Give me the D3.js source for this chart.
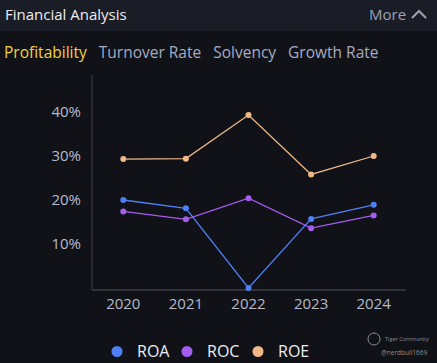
<!DOCTYPE html>
<html>
<head>
<meta charset="utf-8">
<script src="https://cdn.jsdelivr.net/npm/d3@7"></script>
<style>
  html, body { margin: 0; padding: 0; background: #101217; }
  svg { display: block; font-family: "Open Sans", "Noto Sans", sans-serif; }
</style>
</head>
<body>
<div id="chart"></div>
<script>
// Data //
const years = ["2020", "2021", "2022", "2023", "2024"];
const roa = [20.0, 18.1, 0, 15.7, 18.9];
const roc = [17.4, 15.6, 20.4, 13.6, 16.5];
const roe = [29.3, 29.4, 39.3, 25.8, 30.0];
const yTicks = [10, 20, 30, 40];
const tabs = ["Profitability", "Turnover Rate", "Solvency", "Growth Rate"];

const series = [
    { name: "ROA", values: roa, color: "#4f7ff6" },
    { name: "ROC", values: roc, color: "#a55cf0" },
    { name: "ROE", values: roe, color: "#f0b887" }
];

const W = 437, H = 363;
const svg = d3.select("#chart").append("svg")
    .attr("width", W)
    .attr("height", H);

svg.append("rect").attr("width", W).attr("height", H).attr("fill", "#101217");

/* Header */
svg.append("rect").attr("width", W).attr("height", 31).attr("fill", "#1a1d26");
svg.append("text")
    .attr("x", 5).attr("y", 20)
    .attr("fill", "#eceef3")
    .attr("font-size", "15px")
    .text("Financial Analysis");
svg.append("text")
    .attr("x", 369).attr("y", 20)
    .attr("fill", "#9da1b0")
    .attr("font-size", "15px")
    .text("More");
svg.append("path")
    .attr("d", "M412,18 L419,11 L426,18")
    .attr("fill", "none")
    .attr("stroke", "#9da1b0")
    .attr("stroke-width", 2);

/* Tabs */
let tx = 4;
const tabG = svg.append("g");
tabs.forEach((t, i) => {
    const txt = tabG.append("text")
        .attr("x", tx).attr("y", 58)
        .attr("font-size", "15.5px")
        .attr("fill", i === 0 ? "#f3d33c" : "#a7abc4")
        .text(t);
    tx += txt.node().getComputedTextLength() + 12;
});

/* Scales */
const xScale = d3.scalePoint()
    .domain(years)
    .range([92, 405])
    .padding(0.5);

const yScale = d3.scaleLinear()
    .domain([0, 40])
    .range([288, 112]);

/* Axes */
svg.append("line")
    .attr("x1", 92).attr("x2", 92)
    .attr("y1", 75).attr("y2", 290)
    .attr("stroke", "#2d3039").attr("stroke-width", 1.5);
svg.append("line")
    .attr("x1", 92).attr("x2", 406)
    .attr("y1", 290).attr("y2", 290)
    .attr("stroke", "#3a3d47").attr("stroke-width", 1.5);

svg.selectAll(".ytick")
    .data(yTicks)
    .join("text")
    .attr("class", "ytick")
    .attr("x", 81)
    .attr("y", d => yScale(d))
    .attr("dy", "0.35em")
    .attr("text-anchor", "end")
    .attr("fill", "#b6bacb")
    .attr("font-size", "15px")
    .text(d => d + "%");

svg.selectAll(".xtick")
    .data(years)
    .join("text")
    .attr("class", "xtick")
    .attr("x", d => xScale(d))
    .attr("y", 309)
    .attr("text-anchor", "middle")
    .attr("fill", "#b6bacb")
    .attr("font-size", "15px")
    .text(d => d);

/* Lines */
const line = d3.line()
    .x((d, i) => xScale(years[i]))
    .y(d => yScale(d));

series.forEach(s => {
    svg.append("path")
        .datum(s.values)
        .attr("d", line)
        .attr("fill", "none")
        .attr("stroke", s.color)
        .attr("stroke-width", 1.3);
    svg.selectAll(`.dot-${s.name}`)
        .data(s.values)
        .join("circle")
        .attr("class", `dot-${s.name}`)
        .attr("cx", (d, i) => xScale(years[i]))
        .attr("cy", d => yScale(d))
        .attr("r", 3)
        .attr("fill", s.color);
});

/* Legend */
const legendX = [117, 187, 258];
series.forEach((s, i) => {
    svg.append("circle")
        .attr("cx", legendX[i]).attr("cy", 351.5)
        .attr("r", 5.5)
        .attr("fill", s.color);
    svg.append("text")
        .attr("x", legendX[i] + 20).attr("y", 357)
        .attr("fill", "#eceef3")
        .attr("font-size", "16px")
        .text(s.name);
});

/* Watermark */
svg.append("circle")
    .attr("cx", 374).attr("cy", 339).attr("r", 6)
    .attr("fill", "none").attr("stroke", "#8a8d96").attr("stroke-width", 1);
svg.append("text")
    .attr("x", 385).attr("y", 341)
    .attr("fill", "#8a8d96").attr("font-size", "5.5px")
    .text("Tiger Community");
svg.append("text")
    .attr("x", 381).attr("y", 355)
    .attr("fill", "#8a8d96").attr("font-size", "6.5px")
    .text("@nerdbull1669");
</script>
</body>
</html>
